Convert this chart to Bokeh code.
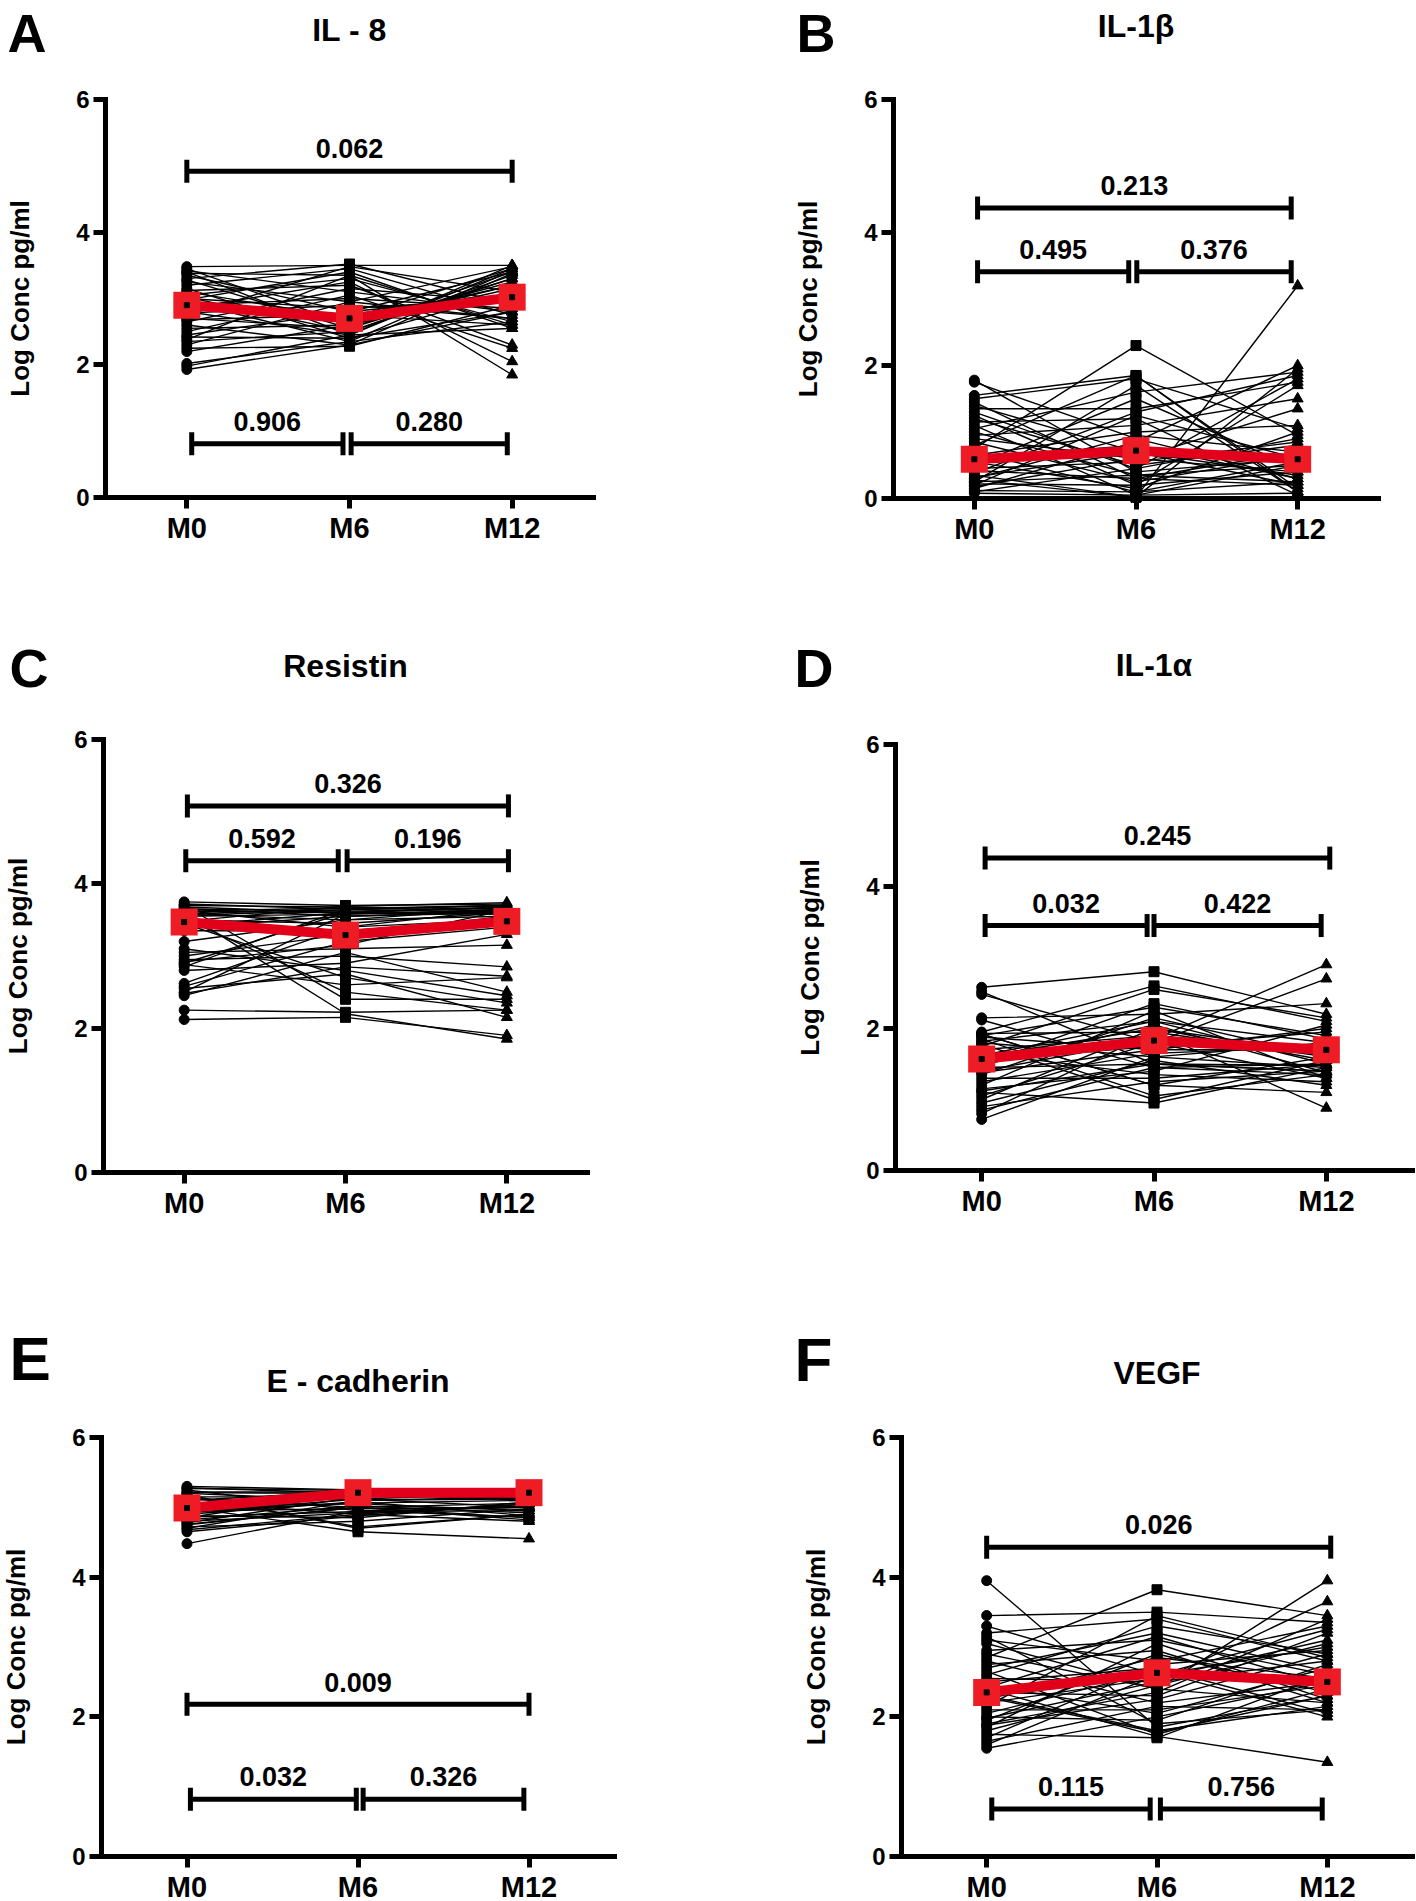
import numpy as np
from bokeh.plotting import figure
from bokeh.models import Range1d, FixedTicker
from bokeh.layouts import column, row
from bokeh.core.properties import value
from bokeh.embed import file_html
from bokeh.resources import INLINE

# ---------------- data ----------------
timepoints = ["M0", "M6", "M12"]
y_ticks = [0, 2, 4, 6]
y_label = "Log Conc pg/ml"

titles = {"A": "IL - 8", "B": "IL-1\u03b2", "C": "Resistin",
          "D": "IL-1\u03b1", "E": "E - cadherin", "F": "VEGF"}

# IL-8
A_m0 = [3.48, 3.45, 3.42, 3.40, 3.38, 3.35, 3.30, 3.28, 3.25, 3.20, 3.15, 3.12, 3.10, 3.05, 3.02, 3.00, 2.98, 2.95, 2.90, 2.88,
        2.85, 2.80, 2.78, 2.75, 2.70, 2.68, 2.65, 2.60, 2.55, 2.50, 2.45, 2.42, 2.38, 2.35, 2.30, 2.25, 2.20, 2.02, 1.98, 1.93]
A_m6 = [3.50, 2.60, 3.10, 2.45, 3.35, 2.80, 3.52, 2.55, 2.95, 3.45, 2.40, 3.20, 2.70, 3.30, 2.50, 2.85, 3.40, 2.35, 3.00, 2.65,
        3.25, 2.45, 2.90, 3.48, 2.55, 2.75, 3.15, 2.30, 2.60, 3.05, 2.80, 2.40, 3.35, 2.50, 2.95, 2.28, 2.60, 2.35, 2.45, 2.30]
A_m12 = [3.50, 3.20, 2.80, 3.45, 2.60, 3.40, 2.90, 3.30, 3.48, 2.75, 3.10, 2.30, 3.45, 2.65, 3.35, 3.00, 2.55, 3.42, 2.85, 3.20,
         2.05, 3.50, 2.70, 3.10, 3.40, 2.60, 2.95, 3.38, 3.25, 2.25, 3.05, 2.80, 1.85, 3.30, 2.70, 2.90, 3.15, 2.65, 2.55, 2.80]
A_mean = [2.90, 2.70, 3.02]

# IL-1beta
B_m0 = [1.78, 1.75, 1.55, 1.50, 1.45, 1.40, 1.35, 0.75, 1.25, 1.20, 1.15, 1.10, 1.05, 1.00, 0.95, 0.90, 0.85, 0.80, 1.30, 0.70,
        0.65, 0.60, 0.55, 0.50, 0.45, 0.42, 0.38, 0.35, 0.32, 0.30, 0.28, 0.25, 0.22, 0.20, 0.18, 0.15, 0.12, 0.10, 0.08, 0.25]
B_m6 = [0.40, 0.90, 1.85, 1.80, 0.30, 0.70, 1.35, 2.30, 0.20, 0.50, 1.20, 0.05, 1.60, 0.35, 1.10, 0.60, 0.25, 1.85, 0.45, 0.10,
        1.00, 0.80, 0.15, 1.50, 0.55, 0.30, 1.30, 0.02, 0.70, 0.95, 0.02, 1.70, 0.20, 1.25, 0.60, 0.85, 0.10, 0.45, 0.05, 0.35]
B_m12 = [0.60, 0.30, 0.10, 1.05, 0.70, 0.20, 1.75, 0.95, 0.40, 0.80, 0.05, 0.50, 1.90, 0.25, 1.50, 1.35, 0.65, 0.15, 1.80, 0.55,
         1.10, 0.30, 1.00, 0.45, 0.85, 0.20, 1.85, 1.95, 0.35, 0.70, 3.20, 0.10, 1.70, 0.60, 0.40, 2.00, 0.25, 0.90, 0.08, 0.50]
B_mean = [0.59, 0.72, 0.59]

# Resistin
C_m0 = [3.75, 3.72, 3.70, 3.68, 3.66, 3.65, 3.63, 3.62, 3.60, 3.58, 3.56, 3.55, 3.52, 3.50, 3.48, 3.45, 3.42, 3.40, 3.20, 3.10,
        3.05, 3.00, 2.95, 2.90, 2.88, 2.85, 2.80, 2.62, 2.58, 2.55, 2.50, 2.45, 2.25, 2.12, 3.35, 3.62, 3.70, 2.92, 2.48, 3.58]
C_m6 = [3.70, 3.65, 3.68, 3.60, 3.55, 3.62, 3.40, 3.67, 2.20, 3.50, 3.64, 3.58, 2.50, 3.45, 3.69, 2.70, 3.60, 3.55, 3.50, 2.80,
        3.10, 3.30, 3.00, 3.60, 2.60, 3.65, 2.90, 3.40, 3.20, 2.75, 3.58, 3.05, 2.22, 2.15, 3.35, 3.60, 2.40, 3.15, 2.85, 3.66]
C_m12 = [3.72, 3.70, 3.65, 3.68, 3.60, 3.66, 3.50, 3.62, 1.85, 3.55, 3.70, 3.64, 2.25, 3.60, 3.74, 2.35, 3.58, 3.62, 3.66, 2.45,
         3.15, 3.55, 2.85, 3.68, 2.70, 3.60, 3.30, 3.65, 3.40, 2.15, 3.62, 2.50, 2.25, 1.90, 3.50, 3.58, 2.40, 3.64, 2.72, 3.70]
C_mean = [3.47, 3.29, 3.48]

# IL-1alpha
D_m0 = [2.58, 2.52, 2.48, 2.15, 2.12, 1.95, 1.93, 1.92, 1.90, 1.88, 1.85, 1.82, 1.80, 1.75, 1.70, 1.65, 1.60, 1.55, 1.50, 1.45,
        1.40, 1.35, 1.30, 1.25, 1.20, 1.15, 1.10, 1.05, 1.00, 0.95, 0.90, 0.85, 0.80, 0.72, 1.62, 1.78, 1.38, 1.48, 1.92, 1.12]
D_m6 = [2.80, 1.50, 1.80, 2.20, 1.45, 2.60, 1.95, 1.20, 2.30, 1.70, 1.05, 2.10, 1.60, 2.55, 1.90, 1.35, 2.00, 1.75, 2.35, 1.50,
        1.85, 2.15, 1.30, 1.65, 2.25, 1.40, 0.95, 1.80, 2.00, 1.55, 1.25, 1.45, 1.95, 1.60, 2.10, 1.00, 1.70, 2.05, 1.20, 1.50]
D_m12 = [2.20, 1.40, 1.30, 2.35, 1.50, 2.10, 1.60, 1.10, 1.90, 2.00, 1.35, 1.80, 1.45, 2.15, 1.70, 1.25, 1.55, 1.95, 1.85, 1.40,
         2.90, 1.60, 1.50, 1.75, 1.30, 2.05, 1.45, 2.70, 1.65, 1.20, 1.40, 1.35, 0.88, 1.80, 1.50, 1.55, 1.70, 1.38, 1.60, 1.48]
D_mean = [1.57, 1.83, 1.70]

# E-cadherin
E_m0 = [5.30, 5.28, 5.25, 5.22, 5.20, 5.18, 5.15, 5.12, 5.10, 5.08, 5.05, 5.02, 5.00, 4.98, 4.95, 4.92, 4.90, 4.88, 4.85, 4.82,
        4.80, 4.78, 4.75, 4.72, 4.70, 4.65, 4.48, 5.27, 5.16, 4.95, 5.05, 4.86, 4.76, 5.21, 4.68, 5.11]
E_m6 = [5.25, 5.20, 4.95, 5.22, 5.10, 4.70, 5.15, 5.00, 5.23, 4.90, 5.18, 5.05, 4.65, 5.20, 4.98, 5.12, 5.08, 4.85, 5.22, 5.02,
        4.92, 5.15, 5.00, 4.80, 5.10, 4.88, 4.95, 5.24, 4.72, 5.06, 5.18, 4.94, 5.00, 5.20, 4.90, 5.12]
E_m12 = [5.25, 5.10, 5.00, 5.20, 5.15, 4.90, 5.22, 4.85, 5.18, 5.05, 5.12, 4.95, 4.55, 5.23, 5.00, 5.20, 4.88, 5.08, 5.15, 4.92,
         5.02, 5.18, 4.82, 4.98, 5.12, 5.05, 4.86, 5.22, 4.90, 5.10, 5.24, 4.95, 5.06, 5.16, 4.80, 5.00]
E_mean = [4.99, 5.21, 5.21]

# VEGF
F_m0 = [3.95, 3.45, 3.30, 3.20, 3.15, 3.10, 2.95, 2.90, 2.85, 2.80, 2.75, 2.65, 2.60, 2.55, 2.50, 2.45, 2.40, 2.35, 2.30, 2.25,
        2.20, 2.15, 2.10, 2.05, 2.00, 1.95, 1.90, 1.85, 1.80, 1.75, 1.70, 1.65, 1.60, 1.55, 2.70, 2.28, 1.98, 3.05, 2.42, 1.88]
F_m6 = [1.85, 3.50, 2.60, 3.40, 1.90, 2.80, 3.10, 2.40, 3.82, 2.20, 2.95, 1.75, 3.30, 2.50, 2.70, 2.05, 1.72, 2.30, 1.80, 2.85,
        2.55, 3.45, 2.10, 2.65, 1.95, 2.90, 2.35, 3.05, 2.45, 1.70, 2.75, 2.15, 2.60, 2.00, 3.20, 1.78, 2.50, 2.40, 3.15, 2.25]
F_m12 = [2.30, 3.35, 3.00, 2.80, 2.10, 3.30, 2.60, 3.95, 3.45, 2.50, 2.20, 2.40, 2.90, 3.65, 2.05, 2.70, 1.35, 3.20, 2.15, 2.55,
         3.10, 2.85, 2.45, 2.00, 2.75, 2.35, 3.40, 2.25, 3.05, 2.60, 2.95, 2.10, 3.25, 2.50, 2.65, 2.30, 2.80, 2.20, 2.45, 2.90]
F_mean = [2.35, 2.63, 2.50]

# significance brackets: start, end (time index), height, p-value
A_br_x0 = [0.00, 0.03, 1.01]; A_br_x1 = [2.00, 0.96, 1.97]; A_br_y = [4.92, 0.81, 0.81]; A_br_p = ["0.062", "0.906", "0.280"]
B_br_x0 = [0.02, 0.02, 1.005]; B_br_x1 = [1.96, 0.955, 1.96]; B_br_y = [4.37, 3.41, 3.41]; B_br_p = ["0.213", "0.495", "0.376"]
C_br_x0 = [0.02, 0.01, 1.01]; C_br_x1 = [2.01, 0.955, 2.01]; C_br_y = [5.08, 4.32, 4.32]; C_br_p = ["0.326", "0.592", "0.196"]
D_br_x0 = [0.02, 0.02, 1.00]; D_br_x1 = [2.02, 0.96, 1.97]; D_br_y = [4.40, 3.45, 3.45]; D_br_p = ["0.245", "0.032", "0.422"]
E_br_x0 = [0.00, 0.02, 1.03]; E_br_x1 = [2.00, 0.99, 1.97]; E_br_y = [2.18, 0.82, 0.82]; E_br_p = ["0.009", "0.032", "0.326"]
F_br_x0 = [0.00, 0.03, 1.02]; F_br_x1 = [2.02, 0.96, 1.97]; F_br_y = [4.43, 0.68, 0.68]; F_br_p = ["0.026", "0.115", "0.756"]

# ---------------- layout (page pixels) ----------------
ROW_Y = [(0, 580), (580, 1250), (1250, 1901)]
COL_X = [(0, 790), (790, 1416)]
# plot area boxes (axis origin / ends): left, top(=6), right, bottom(=0)
FRAMES = {"A": (105, 99, 593, 497), "B": (893, 99, 1378, 498),
          "C": (103, 739, 587, 1172), "D": (895, 744, 1412, 1170),
          "E": (101, 1437, 614, 1856), "F": (901, 1437, 1412, 1856)}
GRID = {"A": (0, 0), "B": (0, 1), "C": (1, 0), "D": (1, 1), "E": (2, 0), "F": (2, 1)}
# letter: left x, baseline y, font size ; title baseline y
LETTER_POS = {"A": (7, 53, 54), "B": (796, 53, 54), "C": (9, 688, 54),
              "D": (794, 688, 54), "E": (9, 1382, 62), "F": (794, 1383, 62)}
TITLE_BASE = {"A": 42, "B": 38, "C": 678, "D": 677, "E": 1393, "F": 1385}
TITLE_SIZE = 32
PV_SIZE = 27
BASE_FIX = 0.38   # alphabetic baseline correction (fraction of font size)

FONT = "Liberation Sans"
RED_SQ = "#EE1C25"
RED_LN = "#E2001A"

data = {
    "A": (A_m0, A_m6, A_m12, A_mean, A_br_x0, A_br_x1, A_br_y, A_br_p),
    "B": (B_m0, B_m6, B_m12, B_mean, B_br_x0, B_br_x1, B_br_y, B_br_p),
    "C": (C_m0, C_m6, C_m12, C_mean, C_br_x0, C_br_x1, C_br_y, C_br_p),
    "D": (D_m0, D_m6, D_m12, D_mean, D_br_x0, D_br_x1, D_br_y, D_br_p),
    "E": (E_m0, E_m6, E_m12, E_mean, E_br_x0, E_br_x1, E_br_y, E_br_p),
    "F": (F_m0, F_m6, F_m12, F_mean, F_br_x0, F_br_x1, F_br_y, F_br_p),
}


def make_panel(key):
    m0, m6, m12, mean, bx0, bx1, by, bp = data[key]
    r, c = GRID[key]
    ry0, ry1 = ROW_Y[r]
    cx0, cx1 = COL_X[c]
    fl, ft, fr, fb = FRAMES[key]
    pos = list(range(len(timepoints)))
    ux = 3.0 / (fr - fl)      # data units per pixel
    uy = 6.0 / (fb - ft)

    def xd(px):
        return -0.5 + (px - fl) * ux

    def yd(py):
        return (fb - py) * uy

    p = figure(width=cx1 - cx0, height=ry1 - ry0,
               x_range=Range1d(xd(cx0), xd(cx1)), y_range=Range1d(yd(ry1), yd(ry0)),
               output_backend="svg", toolbar_location=None,
               min_border=0, min_border_left=0, min_border_right=0,
               min_border_top=0, min_border_bottom=0)
    p.outline_line_color = None
    p.grid.visible = False

    for ax in (p.xaxis[0], p.yaxis[0]):
        ax.axis_line_width = 5
        ax.axis_line_color = "black"
        ax.axis_line_cap = "square"
        ax.major_tick_line_width = 5
        ax.major_tick_line_color = "black"
        ax.major_tick_in = 0
        ax.minor_tick_line_color = None
        ax.major_label_text_font = FONT
        ax.major_label_text_font_style = "bold"
        ax.major_label_text_color = "black"
    p.xaxis.fixed_location = 0
    p.xaxis.bounds = (-0.5, 2.5)
    p.xaxis.ticker = FixedTicker(ticks=pos)
    p.xaxis.major_label_overrides = {i: t for i, t in zip(pos, timepoints)}
    p.xaxis.major_tick_out = 11
    p.xaxis.major_label_standoff = 3
    p.xaxis.major_label_text_font_size = "29px"
    p.yaxis.fixed_location = -0.5
    p.yaxis.bounds = (0, 6)
    p.yaxis.ticker = FixedTicker(ticks=y_ticks)
    p.yaxis.major_tick_out = 12
    p.yaxis.major_label_standoff = 4
    p.yaxis.major_label_text_font_size = "24px"
    p.yaxis.axis_label = y_label
    p.yaxis.axis_label_text_font = FONT
    p.yaxis.axis_label_text_font_style = "bold"
    p.yaxis.axis_label_text_font_size = "26px"
    p.yaxis.axis_label_text_color = "black"
    p.yaxis.axis_label_standoff = 38

    # individual subjects
    n = len(m0)
    xs = [pos for _ in range(n)]
    ys = [[a, b, cc] for a, b, cc in zip(m0, m6, m12)]
    p.multi_line(xs, ys, line_color="black", line_width=1.4)
    p.scatter([pos[0]] * n, m0, marker="circle", size=10, color="black")
    p.scatter([pos[1]] * n, m6, marker="square", size=10, color="black")
    p.scatter([pos[2]] * n, m12, marker="triangle", size=11, color="black")

    # group mean
    p.line(pos, mean, line_color=RED_LN, line_width=10)
    p.scatter(pos, mean, marker="square", size=27, fill_color=RED_SQ, line_color=None)
    p.scatter(pos, mean, marker="square", size=5, color="black")

    # significance brackets
    p.segment(bx0, by, bx1, by, line_color="black", line_width=5)
    p.scatter(bx0 + bx1, by + by, marker="dash", angle=np.pi / 2, size=23,
              line_color="black", line_width=5)
    mids = [(a + b) / 2 for a, b in zip(bx0, bx1)]
    ty = [yy + (12 + BASE_FIX * PV_SIZE) * uy for yy in by]
    p.text(mids, ty, text=bp, text_align="center", text_baseline="alphabetic",
           text_font=value(FONT), text_font_style="bold",
           text_font_size=f"{PV_SIZE}px", text_color="black")

    # panel letter and title
    lx, lb, lsize = LETTER_POS[key]
    p.text([xd(lx)], [yd(lb - BASE_FIX * lsize)], text=[key], text_font=value(FONT),
           text_font_style="bold", text_font_size=f"{lsize}px", text_align="left",
           text_baseline="alphabetic", text_color="black")
    tb = TITLE_BASE[key]
    p.text([xd((fl + fr) / 2)], [yd(tb - BASE_FIX * TITLE_SIZE)], text=[titles[key]],
           text_font=value(FONT), text_font_style="bold", text_font_size=f"{TITLE_SIZE}px",
           text_align="center", text_baseline="alphabetic", text_color="black")
    return p


panels = {k: make_panel(k) for k in "ABCDEF"}
layout = column(row(panels["A"], panels["B"], spacing=0),
                row(panels["C"], panels["D"], spacing=0),
                row(panels["E"], panels["F"], spacing=0), spacing=0)

open("out.html", "w").write(file_html(layout, INLINE))
